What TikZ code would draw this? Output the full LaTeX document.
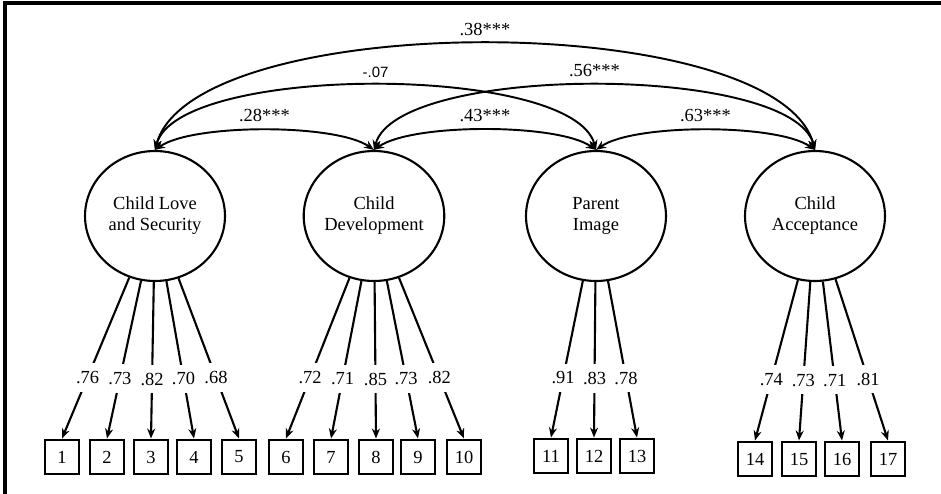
\documentclass[tikz,border=0pt]{standalone}
\usepackage{fontspec}
\setmainfont{Liberation Serif}
\newfontfamily\labelsans{Liberation Sans}
\usepackage{tikz}
\usetikzlibrary{shapes.geometric, arrows.meta, positioning}

\begin{document}
\begin{tikzpicture}[
        x=0.02cm, y=-0.02cm,
        font=\fontsize{10.5}{12}\selectfont,
        latent/.style={draw, ellipse, line width=1.2pt, inner sep=0pt, minimum width=2.80cm, minimum height=2.60cm, align=center},
        item/.style={draw, rectangle, line width=1.4pt, minimum size=0.69cm, inner sep=0pt},
        load/.style={-{Stealth[length=2mm, width=1.6mm]}, line width=1.2pt},
        cov/.style={{Stealth[length=2mm, width=1.6mm]}-{Stealth[length=2mm, width=1.6mm]}, line width=1.1pt},
        coef/.style={fill=white, pos=0.62, inner xsep=1.5pt, inner ysep=4.5pt},
        corr/.style={midway, above, inner sep=4pt}
    ]

    \useasboundingbox (0,0) rectangle (941,494);

    % Frame (open at right and bottom)
    \draw[line width=1.8pt] (5,500) -- (5,3) -- (945,3);

    % Latent factors
    \node[latent] (love) at (155,216) {Child Love\\and Security};
    \node[latent] (devel) at (374,216) {Child\\Development};
    \node[latent] (image) at (596,216) {Parent\\Image};
    \node[latent] (accept) at (815,216) {Child\\Acceptance};

    % Indicators
    \node[item] (i1) at (62,457) {1};
    \node[item] (i2) at (107,457) {2};
    \node[item] (i3) at (151,457) {3};
    \node[item] (i4) at (194,457) {4};
    \node[item] (i5) at (239,457) {5};
    \node[item] (i6) at (286,457) {6};
    \node[item] (i7) at (331,457) {7};
    \node[item] (i8) at (376,457) {8};
    \node[item] (i9) at (418,457) {9};
    \node[item] (i10) at (464,457) {10};
    \node[item] (i11) at (551,456) {11};
    \node[item] (i12) at (594,456) {12};
    \node[item] (i13) at (637,456) {13};
    \node[item] (i14) at (755,459) {14};
    \node[item] (i15) at (799,459) {15};
    \node[item] (i16) at (842,459) {16};
    \node[item] (i17) at (888,459) {17};

    % Loadings
    \draw[load] (love) -- node[coef] {.76} (i1.north);
    \draw[load] (love) -- node[coef] {.73} (i2.north);
    \draw[load] (love) -- node[coef] {.82} (i3.north);
    \draw[load] (love) -- node[coef] {.70} (i4.north);
    \draw[load] (love) -- node[coef] {.68} (i5.north);

    \draw[load] (devel) -- node[coef] {.72} (i6.north);
    \draw[load] (devel) -- node[coef] {.71} (i7.north);
    \draw[load] (devel) -- node[coef] {.85} (i8.north);
    \draw[load] (devel) -- node[coef] {.73} (i9.north);
    \draw[load] (devel) -- node[coef] {.82} (i10.north);

    \draw[load] (image) -- node[coef] {.91} (i11.north);
    \draw[load] (image) -- node[coef] {.83} (i12.north);
    \draw[load] (image) -- node[coef] {.78} (i13.north);

    \draw[load] (accept) -- node[coef] {.74} (i14.north);
    \draw[load] (accept) -- node[coef] {.73} (i15.north);
    \draw[load] (accept) -- node[coef] {.71} (i16.north);
    \draw[load] (accept) -- node[coef] {.81} (i17.north);

    % Covariances
    \draw[cov] (love.north) to[out=35, in=145, looseness=0.54] node[corr] {.28***} (devel.north);
    \draw[cov] (devel.north) to[out=35, in=145, looseness=0.54] node[corr] {.43***} (image.north);
    \draw[cov] (image.north) to[out=35, in=145, looseness=0.54] node[corr] {.63***} (accept.north);
    \draw[cov] (love.north) to[out=75, in=105, looseness=0.52] node[corr, font=\labelsans\fontsize{8.5}{10}\selectfont] {-.07} (image.north);
    \draw[cov] (devel.north) to[out=75, in=105, looseness=0.52] node[corr] {.56***} (accept.north);
    \draw[cov] (love.north) to[out=75, in=105, looseness=0.57] node[corr] {.38***} (accept.north);

\end{tikzpicture}
\end{document}
